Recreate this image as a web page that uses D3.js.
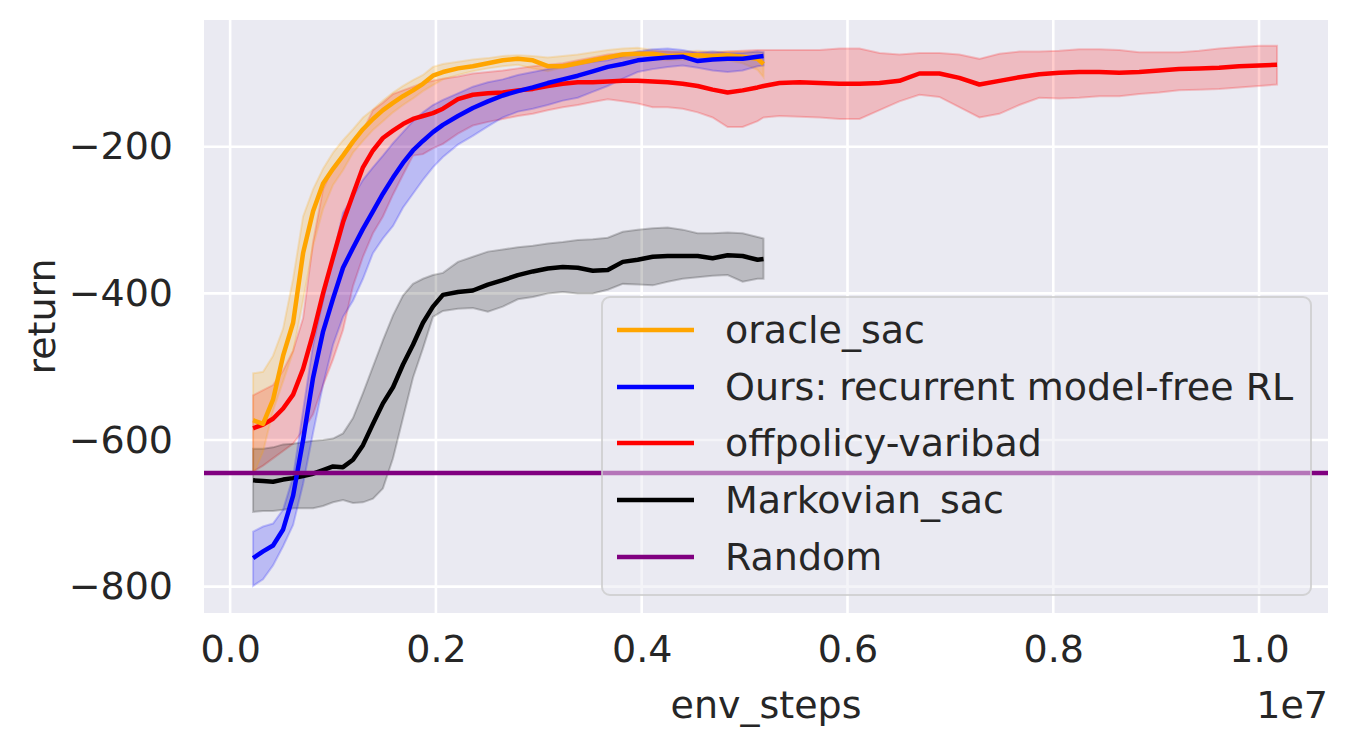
<!DOCTYPE html>
<html>
<head>
<meta charset="utf-8">
<script src="https://cdn.jsdelivr.net/npm/d3@7"></script>
<style>
  body { margin: 0; background: #ffffff; }
  text { font-family: "DejaVu Sans", sans-serif; fill: #262626; }
</style>
</head>
<body>
<script>
/********************************************************/
// env steps (raw) for the short runs and the long offpolicy-varibad run
const stepsShort = [223000, 320000, 417000, 515000, 612000, 709000, 806000, 903000, 1000000, 1097000,
  1194000, 1291000, 1388000, 1485000, 1583000, 1680000, 1777000, 1874000, 1971000, 2068000,
  2214000, 2359000, 2505000, 2650000, 2796000, 2942000, 3087000, 3233000, 3379000, 3524000,
  3670000, 3816000, 3961000, 4107000, 4252000, 4398000, 4544000, 4689000, 4835000, 4981000,
  5126000, 5184000];
const stepsLong = stepsShort.concat([5340000, 5534000, 5728000, 5922000, 6117000, 6311000, 6505000,
  6699000, 6893000, 7087000, 7282000, 7476000, 7670000, 7864000, 8058000, 8252000, 8447000,
  8641000, 8835000, 9029000, 9223000, 9417000, 9612000, 9806000, 10000000, 10175000]);

// oracle_sac
const oracleMean = [-573, -578, -545, -485, -440, -345, -288, -250, -230, -212, -193, -176, -162, -150,
  -140, -131, -123, -114, -103, -98, -93, -90, -86, -82, -80, -82, -90, -90, -86, -82, -78, -74, -73,
  -73, -76, -75, -75, -76, -75, -77, -80, -87];
const oracleLow = [-648, -616, -560, -520, -480, -410, -335, -285, -252, -232, -208, -192, -177, -165,
  -153, -143, -134, -124, -116, -108, -102, -97, -93, -90, -88, -93, -97, -92, -88, -84, -80, -79, -80,
  -81, -82, -81, -82, -83, -82, -86, -95, -105];
const oracleHigh = [-509, -507, -485, -448, -380, -295, -258, -230, -208, -191, -176, -160, -149, -137,
  -126, -117, -109, -102, -91, -87, -84, -81, -79, -76, -75, -76, -78, -76, -74, -71, -68, -66, -65,
  -68, -70, -70, -69, -70, -70, -70, -71, -71];

// Ours: recurrent model-free RL
const oursMean = [-761, -752, -744, -722, -676, -600, -515, -452, -407, -365, -338, -312, -288, -264,
  -242, -222, -205, -192, -180, -170, -158, -147, -138, -130, -124, -119, -113, -108, -103, -97, -91,
  -87, -82, -80, -78, -77, -83, -81, -80, -80, -77, -76];
const oursLow = [-799, -790, -771, -745, -716, -660, -590, -525, -470, -432, -410, -380, -345, -325,
  -308, -283, -264, -245, -228, -214, -197, -185, -172, -160, -152, -148, -143, -137, -133, -125, -117,
  -107, -98, -94, -91, -89, -92, -96, -98, -96, -90, -89];
const oursHigh = [-725, -718, -714, -695, -650, -560, -470, -410, -350, -290, -268, -245, -228, -212,
  -195, -180, -165, -153, -143, -136, -127, -118, -112, -108, -102, -98, -94, -90, -87, -84, -82, -76,
  -70, -67, -66, -68, -72, -70, -72, -72, -70, -71];

// offpolicy-varibad
const varibadMean = [-584, -579, -571, -557, -538, -503, -455, -400, -351, -303, -265, -228, -205, -188,
  -178, -169, -162, -158, -154, -148, -135, -129, -127, -126, -123, -121, -117, -114, -112, -112, -111,
  -110, -110, -111, -112, -114, -117, -122, -126, -123, -119, -117,
  -113, -112, -113, -114, -114, -113, -110, -100, -100, -106, -115, -110, -105, -101, -99, -98, -98,
  -99, -98, -96, -94, -93, -92, -90, -89, -88];
const varibadLow = [-643, -635, -625, -615, -605, -587, -565, -525, -490, -450, -390, -350, -318, -295,
  -265, -238, -212, -210, -202, -196, -182, -171, -166, -162, -158, -155, -150, -146, -143, -139, -135,
  -138, -141, -146, -146, -148, -153, -160, -173, -173, -165, -160,
  -158, -159, -160, -162, -162, -150, -138, -129, -132, -146, -160, -155, -143, -133, -134, -133, -131,
  -131, -128, -126, -123, -122, -121, -119, -117, -115];
const varibadHigh = [-539, -532, -525, -505, -478, -434, -330, -258, -228, -210, -192, -178, -150, -140,
  -128, -123, -118, -113, -110, -107, -104, -100, -98, -96, -93, -90, -88, -86, -82, -78, -74, -72,
  -71, -70, -70, -71, -71, -72, -70, -69, -68, -68,
  -68, -68, -68, -66, -66, -72, -74, -72, -72, -74, -80, -73, -70, -70, -69, -67, -67, -68, -71, -71,
  -71, -69, -66, -64, -62, -62];

// Markovian_sac
const markovMean = [-655, -656, -657, -654, -652, -649, -646, -641, -636, -637, -627, -607, -578, -550,
  -528, -497, -470, -440, -418, -402, -398, -396, -388, -382, -375, -370, -366, -364, -365, -369, -368,
  -357, -354, -350, -349, -349, -349, -352, -348, -349, -354, -353];
const markovLow = [-698, -697, -697, -695, -693, -693, -693, -690, -685, -682, -686, -685, -680, -666,
  -625, -570, -515, -475, -432, -424, -421, -420, -425, -418, -408, -405, -400, -398, -400, -400, -395,
  -387, -388, -389, -384, -380, -378, -376, -375, -384, -380, -380];
const markovHigh = [-612, -612, -610, -606, -605, -603, -601, -600, -598, -591, -570, -536, -500, -464,
  -430, -403, -387, -380, -375, -372, -357, -350, -343, -340, -337, -335, -332, -330, -327, -326, -324,
  -316, -313, -311, -310, -313, -318, -318, -317, -318, -323, -325];

// Random baseline
const randomReturn = -645;

const seriesNames = ["oracle_sac", "Ours: recurrent model-free RL", "offpolicy-varibad", "Markovian_sac", "Random"];
const seriesColors = ["orange", "blue", "red", "black", "purple"];

const xTickValues = [0, 2000000, 4000000, 6000000, 8000000, 10000000];
const yTickValues = [-800, -600, -400, -200];

/********************************************************/
// Define SVG area dimensions
const svgWidth = 1349;
const svgHeight = 750;

const chartMargin = { top: 20, right: 21, bottom: 137, left: 204 };
const chartWidth = svgWidth - chartMargin.left - chartMargin.right;
const chartHeight = svgHeight - chartMargin.top - chartMargin.bottom;

const svg = d3
  .select("body")
  .append("svg")
  .attr("width", svgWidth)
  .attr("height", svgHeight);

const chartGroup = svg
  .append("g")
  .attr("transform", `translate(${chartMargin.left}, ${chartMargin.top})`);

/************** scales ************/
let xScale = d3.scaleLinear().domain([-254000, 10670000]).range([0, chartWidth]);
let yScale = d3.scaleLinear().domain([-836, -27]).range([chartHeight, 0]);

/************** background + grid ************/
chartGroup
  .append("rect")
  .attr("width", chartWidth)
  .attr("height", chartHeight)
  .attr("fill", "#eaeaf2");

chartGroup
  .selectAll(".xgrid")
  .data(xTickValues)
  .enter()
  .append("line")
  .attr("x1", (d) => xScale(d))
  .attr("x2", (d) => xScale(d))
  .attr("y1", 0)
  .attr("y2", chartHeight)
  .attr("stroke", "white")
  .attr("stroke-width", 2.6);

chartGroup
  .selectAll(".ygrid")
  .data(yTickValues)
  .enter()
  .append("line")
  .attr("x1", 0)
  .attr("x2", chartWidth)
  .attr("y1", (d) => yScale(d))
  .attr("y2", (d) => yScale(d))
  .attr("stroke", "white")
  .attr("stroke-width", 2.6);

/************** axes (labels only, seaborn style) ************/
let bottomAxis = d3.axisBottom(xScale)
  .tickValues(xTickValues)
  .tickSize(0)
  .tickPadding(22)
  .tickFormat((d) => d3.format(".1f")(d / 1e7));
let leftAxis = d3.axisLeft(yScale)
  .tickValues(yTickValues)
  .tickSize(0)
  .tickPadding(31)
  .tickFormat((d) => d3.format("d")(d).replace("-", "\u2212"));

chartGroup
  .append("g")
  .attr("transform", `translate(0, ${chartHeight})`)
  .call(bottomAxis)
  .call((g) => g.select(".domain").remove())
  .selectAll("text")
  .attr("font-size", "38px")
  .attr("fill", "#262626")
  .attr("font-family", "DejaVu Sans");

chartGroup
  .append("g")
  .call(leftAxis)
  .call((g) => g.select(".domain").remove())
  .selectAll("text")
  .attr("font-size", "38px")
  .attr("fill", "#262626")
  .attr("font-family", "DejaVu Sans");

/************** bands + lines ************/
function makeSeries(steps, mean, low, high) {
  return steps.map((s, i) => ({ step: s, mean: mean[i], low: low[i], high: high[i] }));
}

let runs = [
  { data: makeSeries(stepsLong, varibadMean, varibadLow, varibadHigh), color: "red" },
  { data: makeSeries(stepsShort, markovMean, markovLow, markovHigh), color: "black" },
  { data: makeSeries(stepsShort, oracleMean, oracleLow, oracleHigh), color: "orange" },
  { data: makeSeries(stepsShort, oursMean, oursLow, oursHigh), color: "blue" },
];

let band = d3.area()
  .x((d) => xScale(d.step))
  .y0((d) => yScale(d.low))
  .y1((d) => yScale(d.high));

let meanLine = d3.line()
  .x((d) => xScale(d.step))
  .y((d) => yScale(d.mean));

runs.forEach((run) => {
  chartGroup
    .append("path")
    .attr("d", band(run.data))
    .attr("fill", run.color)
    .attr("fill-opacity", 0.2)
    .attr("stroke", run.color)
    .attr("stroke-opacity", 0.2)
    .attr("stroke-width", 2);
});

runs.forEach((run) => {
  chartGroup
    .append("path")
    .attr("d", meanLine(run.data))
    .attr("fill", "none")
    .attr("stroke", run.color)
    .attr("stroke-width", 4.5)
    .attr("stroke-linejoin", "round");
});

// Random: horizontal line across the axes
chartGroup
  .append("line")
  .attr("x1", 0)
  .attr("x2", chartWidth)
  .attr("y1", yScale(randomReturn))
  .attr("y2", yScale(randomReturn))
  .attr("stroke", "purple")
  .attr("stroke-width", 4.5);

/************* axis titles **************/
svg
  .append("text")
  .text("env_steps")
  .attr("x", chartMargin.left + chartWidth / 2)
  .attr("y", 718)
  .attr("text-anchor", "middle")
  .attr("font-size", "38px");

svg
  .append("text")
  .text("1e7")
  .attr("x", chartMargin.left + chartWidth)
  .attr("y", 718)
  .attr("text-anchor", "end")
  .attr("font-size", "38px");

svg
  .append("text")
  .text("return")
  .attr("transform", `translate(55, ${chartMargin.top + chartHeight / 2}) rotate(-90)`)
  .attr("text-anchor", "middle")
  .attr("font-size", "38px");

/************* legend **************/
const legendBox = { x: 602, y: 297, w: 709, h: 298 };
const legendRowY = [330, 387, 443, 500, 557];

let legend = svg.append("g");

legend
  .append("rect")
  .attr("x", legendBox.x)
  .attr("y", legendBox.y)
  .attr("width", legendBox.w)
  .attr("height", legendBox.h)
  .attr("rx", 8)
  .attr("fill", "#eaeaf2")
  .attr("fill-opacity", 0.5)
  .attr("stroke", "#cccccc")
  .attr("stroke-opacity", 0.8)
  .attr("stroke-width", 2);

let legendItems = legend
  .selectAll(".legend-item")
  .data(seriesNames)
  .enter()
  .append("g")
  .attr("transform", (d, i) => `translate(0, ${legendRowY[i]})`);

legendItems
  .append("line")
  .attr("x1", 617)
  .attr("x2", 694)
  .attr("stroke", (d, i) => seriesColors[i])
  .attr("stroke-width", 4.5);

legendItems
  .append("text")
  .text((d) => d)
  .attr("x", 725)
  .attr("dy", "0.35em")
  .attr("font-size", "38px");
</script>
</body>
</html>
